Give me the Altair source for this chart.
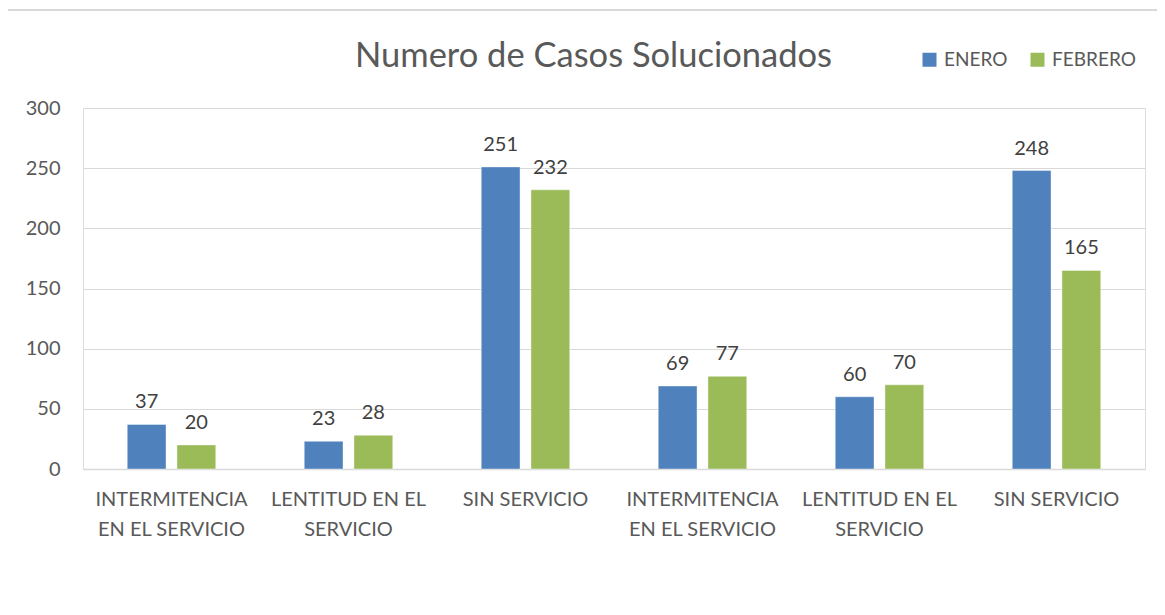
import altair as alt
import pandas as pd
import json

# ---- data ----
title_text = "Numero de Casos Solucionados"
categories = [
    "INTERMITENCIA EN EL SERVICIO",
    "LENTITUD EN EL SERVICIO",
    "SIN SERVICIO",
    "INTERMITENCIA EN EL SERVICIO",
    "LENTITUD EN EL SERVICIO",
    "SIN SERVICIO",
]
label_lines = {
    "INTERMITENCIA EN EL SERVICIO": ["INTERMITENCIA", "EN EL SERVICIO"],
    "LENTITUD EN EL SERVICIO": ["LENTITUD EN EL", "SERVICIO"],
    "SIN SERVICIO": ["SIN SERVICIO"],
}
series = ["ENERO", "FEBRERO"]
enero = [37, 23, 251, 69, 60, 248]
febrero = [20, 28, 232, 77, 70, 165]
colors = ["#4F81BD", "#9BBB59"]
y_ticks = [0, 50, 100, 150, 200, 250, 300]

keys = [str(i) for i in range(len(categories))]
rows = []
for i, cat in enumerate(categories):
    for s, vals in zip(series, [enero, febrero]):
        rows.append({"key": keys[i], "cat": cat, "series": s, "value": vals[i]})
df = pd.DataFrame(rows)

label_expr = json.dumps([label_lines[c] for c in categories]) + "[toNumber(datum.value)]"

FONT = "Lato"
TXT = "#595959"
GRID = "#D9D9D9"
FS = 20

x_enc = alt.X(
    "key:N",
    sort=keys,
    scale=alt.Scale(paddingInner=0.5, paddingOuter=0.25),
    axis=alt.Axis(
        title=None,
        labelExpr=label_expr,
        labelAngle=0,
        labelFont=FONT,
        labelFontSize=FS,
        labelColor=TXT,
        labelLineHeight=30,
        labelPadding=20,
        labelBaseline="top",
        ticks=False,
        domainColor=GRID,
        domainWidth=1.5,
        grid=False,
    ),
)
xoff_enc = alt.XOffset("series:N", sort=series, scale=alt.Scale(paddingInner=0.22, paddingOuter=0))
y_enc = alt.Y(
    "value:Q",
    scale=alt.Scale(domain=[0, 300], nice=False),
    axis=alt.Axis(
        title=None,
        values=y_ticks,
        labelFont=FONT,
        labelFontSize=FS,
        labelColor=TXT,
        labelPadding=23,
        ticks=False,
        domain=False,
        gridColor=GRID,
        gridWidth=1,
    ),
)

bars = alt.Chart(df).mark_bar(stroke="white", strokeOpacity=0.5, strokeWidth=0.8).encode(
    x=x_enc,
    xOffset=xoff_enc,
    y=y_enc,
    color=alt.Color(
        "series:N",
        sort=series,
        scale=alt.Scale(domain=series, range=colors),
        legend=alt.Legend(
            title=None,
            orient="none",
            direction="horizontal",
            legendX=837,
            legendY=-58,
            symbolType="square",
            symbolSize=196,
            symbolStrokeWidth=0,
            labelFont=FONT,
            labelFontSize=19,
            labelColor=TXT,
            labelOffset=5,
            columnPadding=20,
            padding=0,
        ),
    ),
)

labels = alt.Chart(df).mark_text(
    baseline="alphabetic", dy=-16, font=FONT, fontSize=FS, color="#404040"
).encode(
    x=alt.X("key:N", sort=keys),
    xOffset=alt.XOffset("series:N", sort=series),
    y="value:Q",
    text="value:Q",
)

frame = alt.Chart(pd.DataFrame({"f": [1]})).mark_rect(
    fill="transparent", stroke=GRID, strokeWidth=2
).encode(
    x=alt.value(-76), x2=alt.value(1300), y=alt.value(-98), y2=alt.value(700)
)

title = alt.Chart(pd.DataFrame({"t": [title_text]})).mark_text(
    align="left", baseline="alphabetic", font=FONT, fontSize=34.5, color=TXT
).encode(
    x=alt.value(272), y=alt.value(-41), text="t:N"
)

chart = alt.layer(frame, bars, labels, title).properties(
    width=1062,
    height=361,
    autosize=alt.AutoSizeParams(type="none"),
    padding={"left": 75, "top": 100, "right": 12, "bottom": 138},
).configure_view(stroke=None).configure(background="white")

chart.save("out.html", embed_options={"renderer": "svg", "actions": False})
